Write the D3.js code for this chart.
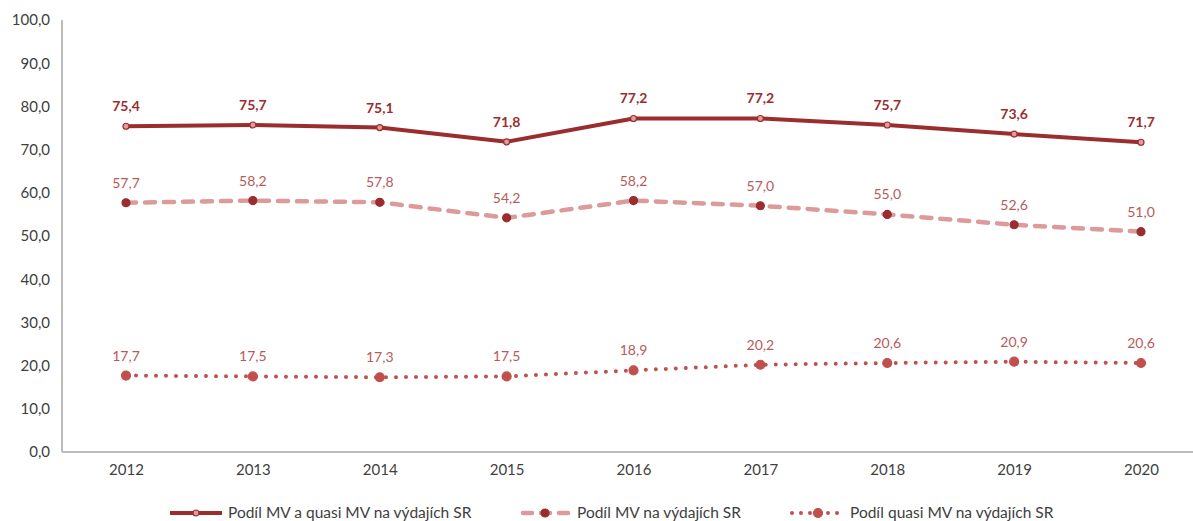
<!DOCTYPE html>
<html lang="cs">

<head>
  <meta charset="UTF-8">
  <title>Podíl MV na výdajích SR</title>
  <style>
    body {
      margin: 0;
      background: #fff;
    }

    * {
      font-family: 'Lato', 'Open Sans', sans-serif;
    }

    .axis path,
    .axis line {
      stroke: #a6a6a6;
      stroke-width: 1.5px;
    }

    .axis text {
      fill: #404040;
      font-size: 15px;
    }
  </style>
</head>

<body>
  <div id="chart"></div>

  <script src="https://cdn.jsdelivr.net/npm/d3@7"></script>
  <script>
    // Data
    const years = ['2012', '2013', '2014', '2015', '2016', '2017', '2018', '2019', '2020'];
    const podilMvQuasi = [75.4, 75.7, 75.1, 71.8, 77.2, 77.2, 75.7, 73.6, 71.7];
    const podilMv = [57.7, 58.2, 57.8, 54.2, 58.2, 57.0, 55.0, 52.6, 51.0];
    const podilQuasi = [17.7, 17.5, 17.3, 17.5, 18.9, 20.2, 20.6, 20.9, 20.6];
    const yTicks = [0, 10, 20, 30, 40, 50, 60, 70, 80, 90, 100];
    const seriesNames = ['Podíl MV a quasi MV na výdajích SR', 'Podíl MV na výdajích SR', 'Podíl quasi MV na výdajích SR'];

    const W = 1193, H = 521;
    const margin = { top: 20, left: 62, bottom: 69 };

    const svg = d3.select('#chart').append('svg')
      .attr('width', W)
      .attr('height', H);

    const xScale = d3.scalePoint()
      .domain(years)
      .range([126, 1141]);

    const yScale = d3.scaleLinear()
      .domain([0, 100])
      .range([H - margin.bottom, margin.top]);

    const fmt = v => d3.format('.1f')(v).replace('.', ',');

    // y axis
    const yAxis = d3.axisLeft(yScale)
      .tickValues(yTicks)
      .tickSize(0)
      .tickPadding(12)
      .tickFormat(fmt);
    svg.append('g')
      .attr('class', 'y axis')
      .attr('transform', `translate(${margin.left}, 0)`)
      .call(yAxis)
      .call(g => g.select('.domain').remove())
      .append('line')
      .attr('x1', 0).attr('x2', 0)
      .attr('y1', yScale(100)).attr('y2', yScale(0));

    // x axis
    const xAxis = d3.axisBottom(xScale)
      .tickSize(0)
      .tickPadding(12);
    svg.append('g')
      .attr('class', 'x axis')
      .attr('transform', `translate(0, ${yScale(0)})`)
      .call(xAxis)
      .call(g => g.select('.domain').remove())
      .append('line')
      .attr('x1', margin.left).attr('x2', W)
      .attr('y1', 0).attr('y2', 0);

    const series = [
      { name: seriesNames[0], values: podilMvQuasi, line: '#9b2d2f', width: 4, dash: null, cap: 'butt',
        mFill: '#e39a9a', mStroke: '#9b2d2f', r: 3, label: '#9b2d2f', bold: true },
      { name: seriesNames[1], values: podilMv, line: '#dd9a9a', width: 4.5, dash: '10 9', cap: 'round',
        mFill: '#9b2d2f', mStroke: '#9b2d2f', r: 4, label: '#b85a5a', bold: false },
      { name: seriesNames[2], values: podilQuasi, line: '#c0504d', width: 4, dash: '0 10', cap: 'round',
        mFill: '#c0504d', mStroke: '#c0504d', r: 4.5, label: '#b85a5a', bold: false }
    ];

    const line = d3.line()
      .x((d, i) => xScale(years[i]))
      .y(d => yScale(d));

    series.forEach(s => {
      svg.append('path')
        .datum(s.values)
        .attr('d', line)
        .attr('fill', 'none')
        .attr('stroke', s.line)
        .attr('stroke-width', s.width)
        .attr('stroke-linecap', s.cap)
        .attr('stroke-linejoin', 'round')
        .attr('stroke-dasharray', s.dash);

      svg.selectAll(null)
        .data(s.values).enter()
        .append('circle')
        .attr('cx', (d, i) => xScale(years[i]))
        .attr('cy', d => yScale(d))
        .attr('r', s.r)
        .attr('fill', s.mFill)
        .attr('stroke', s.mStroke)
        .attr('stroke-width', 1.2);

      svg.selectAll(null)
        .data(s.values).enter()
        .append('text')
        .attr('x', (d, i) => xScale(years[i]))
        .attr('y', d => yScale(d) - 15)
        .attr('text-anchor', 'middle')
        .style('font-size', '14px')
        .style('font-weight', s.bold ? 'bold' : 'normal')
        .style('fill', s.label)
        .text(fmt);
    });

    // legend
    const legendX = [168, 517, 790];
    const legendY = 513;
    const legend = svg.selectAll('.legend')
      .data(series).enter()
      .append('g')
      .attr('class', 'legend')
      .attr('transform', (d, i) => `translate(${legendX[i]}, ${legendY})`);

    legend.append('line')
      .attr('x1', 2).attr('x2', 54)
      .attr('y1', 0).attr('y2', 0)
      .attr('stroke', d => d.line)
      .attr('stroke-width', d => d.width)
      .attr('stroke-linecap', d => d.cap)
      .attr('stroke-dasharray', d => d.dash ? (d.dash === '0 10' ? '0 9' : '9 9') : null)
      .attr('stroke-dashoffset', d => d.dash === '0 10' ? 0 : -4);

    legend.append('circle')
      .attr('cx', 28).attr('cy', 0)
      .attr('r', d => d.r)
      .attr('fill', d => d.mFill)
      .attr('stroke', d => d.mStroke)
      .attr('stroke-width', 1.2);

    legend.append('text')
      .attr('x', 60)
      .attr('y', 5)
      .style('font-size', '15.5px')
      .style('fill', '#404040')
      .text(d => d.name);
  </script>
</body>

</html>
